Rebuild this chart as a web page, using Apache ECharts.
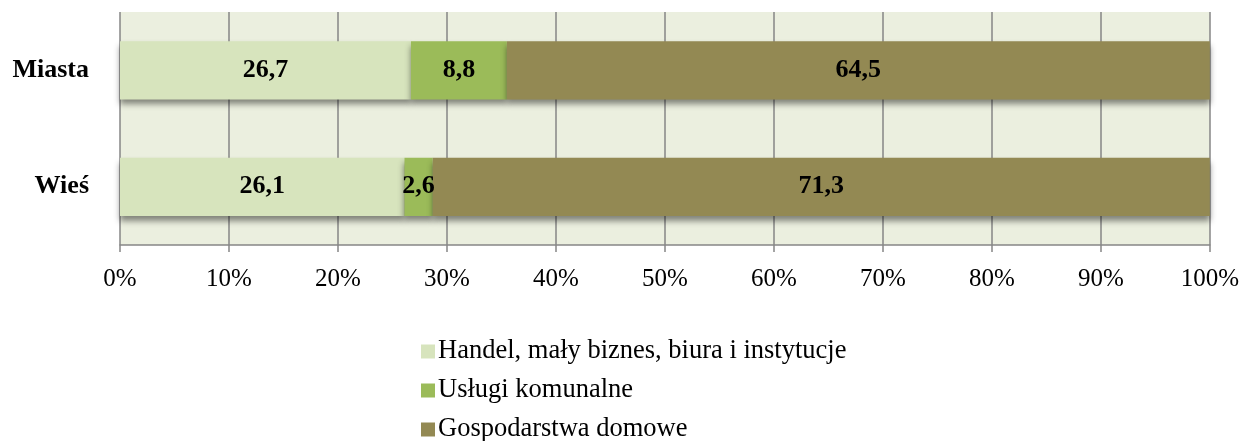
<!DOCTYPE html>
<html><head><meta charset="utf-8">
<script src="https://cdn.jsdelivr.net/npm/echarts@6/dist/echarts.min.js"></script>
<style>html,body{margin:0;padding:0;background:#fff}#c{width:1242px;height:441px}</style>
</head><body><div id="c"></div>
<script>
var categories = ['Miasta', 'Wieś'];
var seriesNames = ['Handel, mały biznes, biura i instytucje', 'Usługi komunalne', 'Gospodarstwa domowe'];
var handel = [26.7, 26.1];
var uslugi = [8.8, 2.6];
var gosp = [64.5, 71.3];
var colors = ['#D7E4BD', '#9BBB59', '#938953'];
var font = '"Liberation Serif", "Times New Roman", serif';

var chart = echarts.init(document.getElementById('c'), null, {renderer: 'canvas'});
function mk(name, data, color) {
  return {
    name: name, type: 'bar', stack: 'a', data: data, barWidth: '50%',
    itemStyle: {color: color, shadowBlur: 6, shadowOffsetY: 5, shadowColor: 'rgba(0,0,0,0.45)'},
    label: {show: true, position: 'inside', color: '#000', fontFamily: font, fontWeight: 'bold', fontSize: 26,
      formatter: function (p) { return String(p.value).replace('.', ','); }},
    emphasis: {disabled: true}
  };
}
chart.setOption({
  animation: false,
  grid: {left: 120, right: 29, top: 12, height: 233, backgroundColor: '#EBEFDF', show: true, borderWidth: 0},
  legend: {
    orient: 'vertical', left: 416, top: 333, height: 110, itemWidth: 14, itemHeight: 14, itemGap: 12,
    icon: 'rect', textStyle: {fontFamily: font, fontSize: 26.5, color: '#000', padding: [0, 0, 0, -2]},
    data: seriesNames
  },
  xAxis: {
    type: 'value', min: 0, max: 100, interval: 10,
    axisLine: {show: true, lineStyle: {color: '#868686', width: 1.5}},
    axisTick: {show: true, length: 7, lineStyle: {color: '#868686', width: 1.5}},
    splitLine: {show: true, lineStyle: {color: '#868686', width: 1.5}},
    axisLabel: {fontFamily: font, fontSize: 25, color: '#000', margin: 22, formatter: '{value}%'}
  },
  yAxis: {
    type: 'category', data: categories, inverse: true,
    axisLine: {show: false}, axisTick: {show: false},
    axisLabel: {fontFamily: font, fontSize: 26, fontWeight: 'bold', color: '#000', margin: 31}
  },
  series: [mk(seriesNames[0], handel, colors[0]), mk(seriesNames[1], uslugi, colors[1]), mk(seriesNames[2], gosp, colors[2])]
});
</script></body></html>
